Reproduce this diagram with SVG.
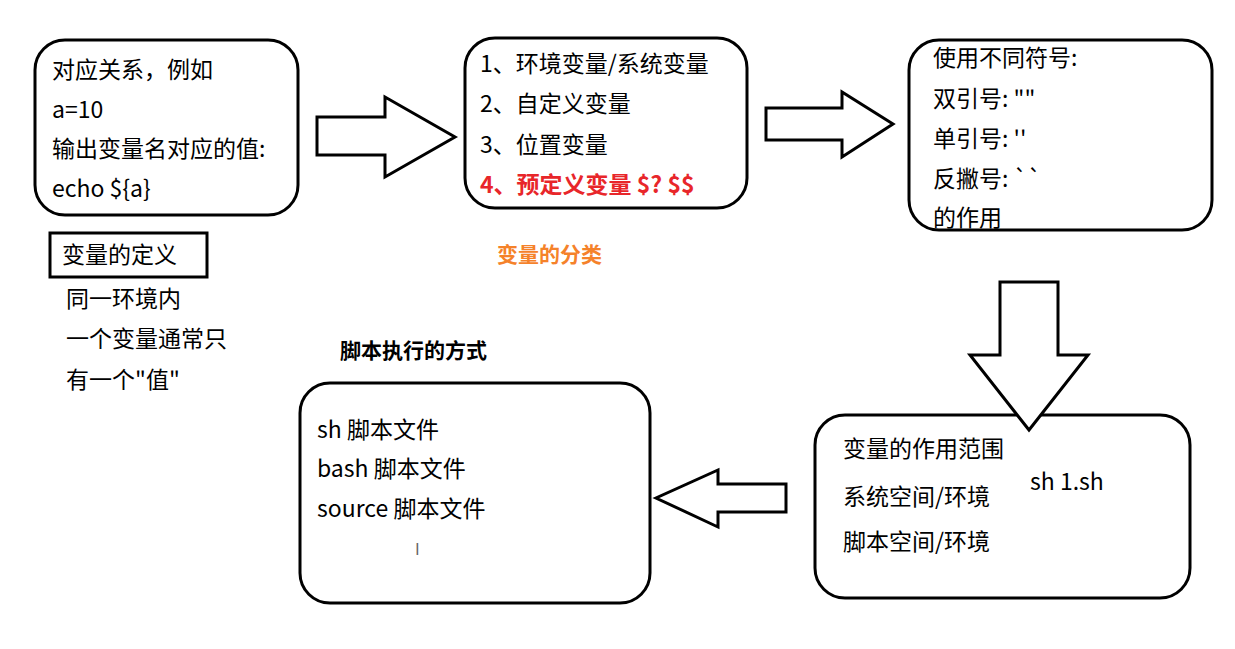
<svg xmlns="http://www.w3.org/2000/svg" width="1235" height="649" viewBox="0 0 1235 649">
<style>
.b{fill:#fff;stroke:#000;stroke-width:3}
.a{fill:#fff;stroke:#000;stroke-width:3;stroke-linejoin:miter}
text{font-family:"Microsoft YaHei","Noto Sans CJK SC",sans-serif;font-size:23px;fill:#000}
.r{fill:#e8262a;font-weight:bold}
.o{fill:#f5822a;font-weight:bold;font-size:21px}
.t{font-weight:bold;font-size:21px}
</style>
<rect width="1235" height="649" fill="#fff"/>
<g id="n1"><rect class="b" x="35" y="40" width="263" height="175" rx="30"/>
<text x="52" y="78">对应关系，例如</text><text x="52" y="118">a=10</text><text x="52" y="157">输出变量名对应的值:</text><text x="52" y="197">echo ${a}</text></g>
<g id="n-def"><rect x="50" y="233" width="157" height="44" fill="none" stroke="#000" stroke-width="3"/>
<text x="62" y="263">变量的定义</text>
<text x="66" y="307">同一环境内</text><text x="66" y="347">一个变量通常只</text><text x="66" y="388">有一个"值"</text></g>
<g id="n2"><rect class="b" x="465" y="38" width="282" height="170" rx="30"/>
<text x="480" y="72">1、环境变量/系统变量</text><text x="480" y="112">2、自定义变量</text><text x="480" y="153">3、位置变量</text><text class="r" x="480" y="193">4、预定义变量 $? $$</text></g>
<text class="o" x="497" y="262">变量的分类</text>
<g id="n3"><rect class="b" x="909" y="40" width="303" height="190" rx="30"/>
<text x="933" y="66">使用不同符号:</text><text x="933" y="107">双引号: ""</text><text x="933" y="147">单引号: ''</text><text x="933" y="187">反撇号: ``</text><text x="933" y="226">的作用</text></g>
<g id="n4"><rect class="b" x="815" y="415" width="375" height="183" rx="30"/>
<text x="843" y="457">变量的作用范围</text><text x="1030" y="490">sh 1.sh</text><text x="843" y="505">系统空间/环境</text><text x="843" y="550">脚本空间/环境</text></g>
<g id="n5"><rect class="b" x="300" y="383" width="350" height="220" rx="30"/>
<text x="317" y="438">sh 脚本文件</text><text x="317" y="477">bash 脚本文件</text><text x="317" y="517">source 脚本文件</text>
<text x="415" y="555" style="font-size:16px;fill:#666">I</text></g>
<text class="t" x="340" y="358">脚本执行的方式</text>
<g id="connectors">
<polygon class="a" points="317,117 385,117 385,97 455,137 385,177 385,155 317,155"/>
<polygon class="a" points="766,108 842,108 842,92 893,124 842,157 842,140 766,140"/>
<polygon class="a" points="1000,282 1058,282 1058,355 1088,355 1029,430 970,355 1000,355"/>
<polygon class="a" points="786,484 718,484 718,470 656,498 718,527 718,512 786,512"/>
</g>
</svg>
